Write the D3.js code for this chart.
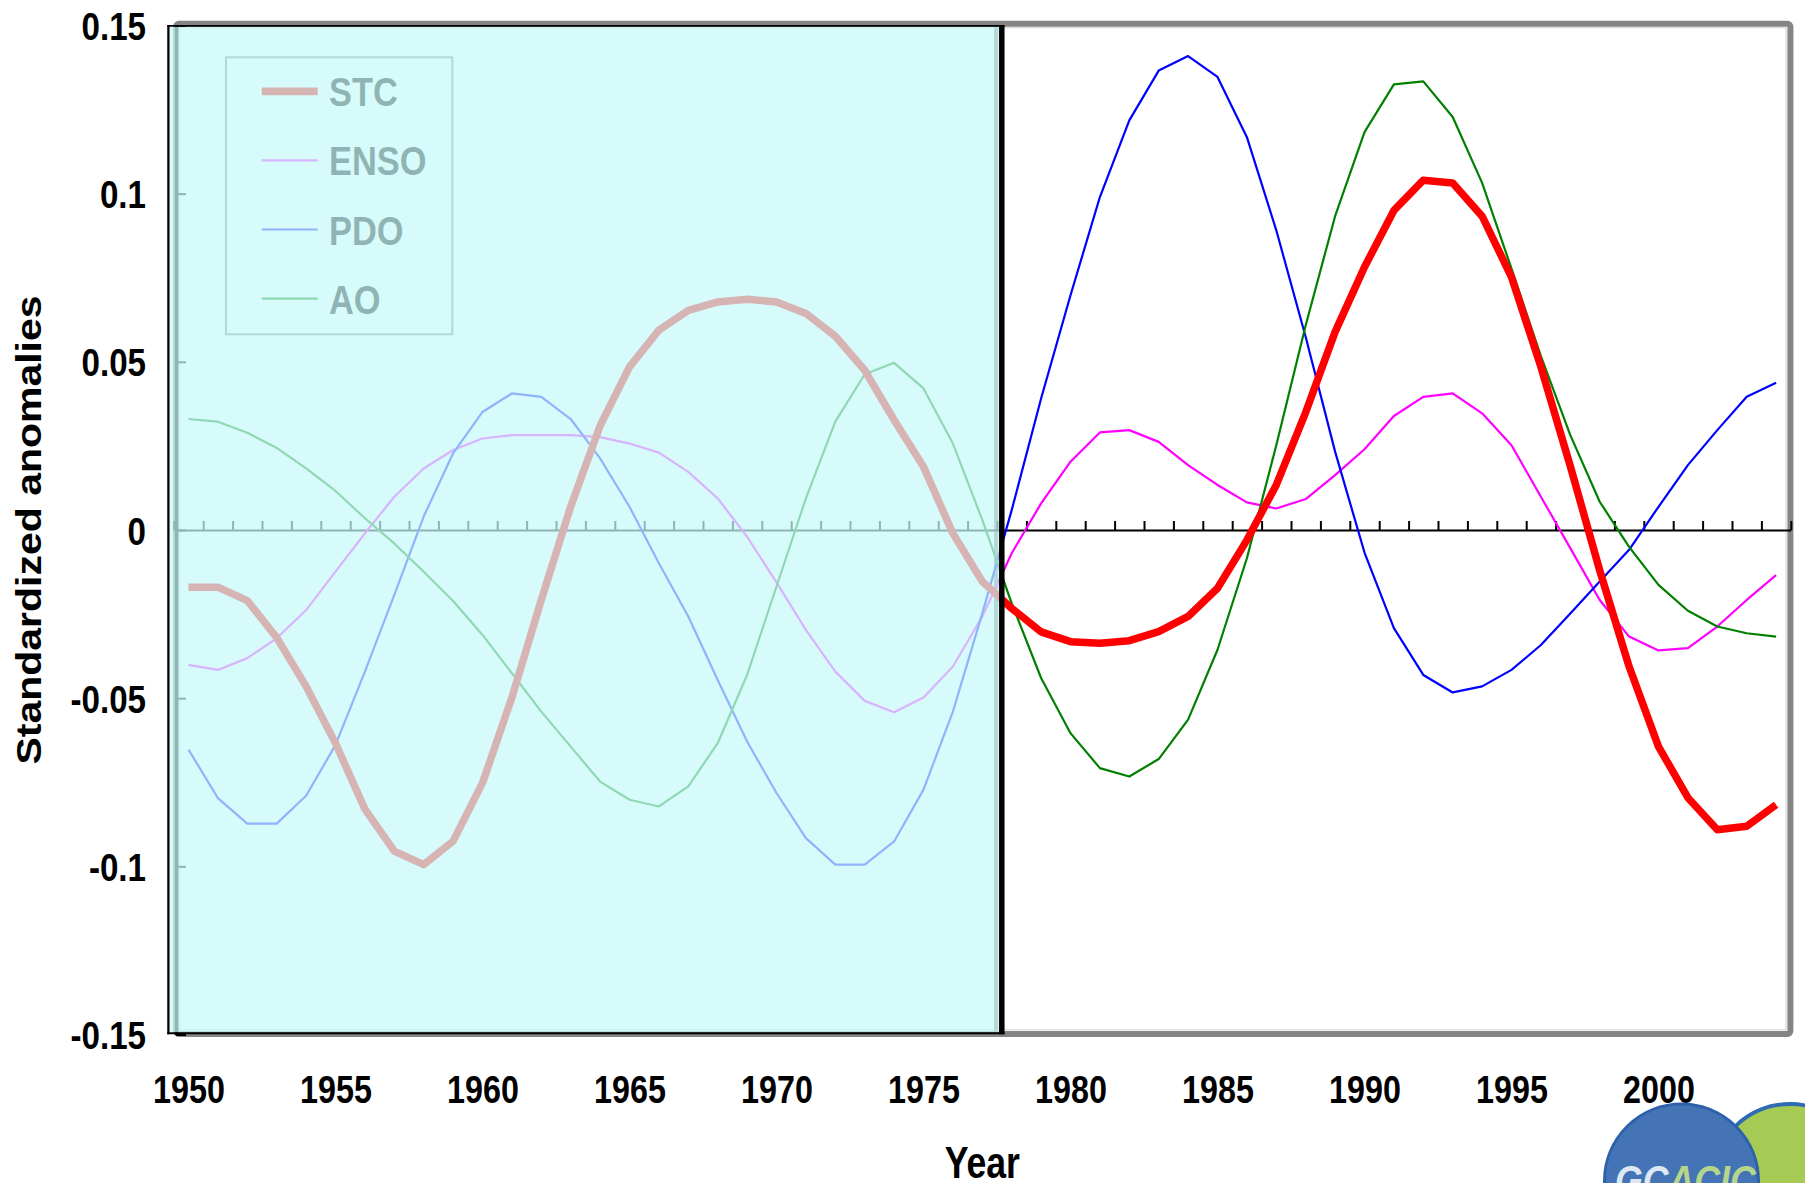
<!DOCTYPE html>
<html>
<head>
<meta charset="utf-8">
<script src="https://cdn.jsdelivr.net/npm/d3@7"></script>
<style>
body { margin: 0; background: #fff; }
text { font-family: "Liberation Sans", Arial, sans-serif; font-weight: bold; }
</style>
</head>
<body>
<script>
// categories (years) and series values
var years = [1950,1951,1952,1953,1954,1955,1956,1957,1958,1959,
             1960,1961,1962,1963,1964,1965,1966,1967,1968,1969,
             1970,1971,1972,1973,1974,1975,1976,1977,1978,1979,
             1980,1981,1982,1983,1984,1985,1986,1987,1988,1989,
             1990,1991,1992,1993,1994,1995,1996,1997,1998,1999,
             2000,2001,2002,2003,2004];

var stc = [-0.017,-0.017,-0.021,-0.032,-0.0465,-0.0634,-0.083,-0.0955,-0.0995,-0.0925,
           -0.0752,-0.0498,-0.0208,0.007,0.031,0.0485,0.0594,0.0653,0.0678,0.0686,
           0.0678,0.0644,0.0576,0.0475,0.0327,0.0188,-0.001,-0.0153,-0.0233,-0.0303,
           -0.0332,-0.0337,-0.0329,-0.0302,-0.0257,-0.0173,-0.003,0.0134,0.035,0.0589,
           0.0782,0.095,0.104,0.1032,0.0933,0.0752,0.0485,0.019,-0.012,-0.0406,
           -0.0644,-0.0796,-0.0891,-0.0881,-0.0817];

var enso = [-0.0401,-0.0416,-0.0381,-0.0322,-0.0238,-0.0124,-0.001,0.0099,0.0183,0.0238,
            0.0272,0.0282,0.0282,0.0282,0.0276,0.0257,0.023,0.0173,0.0094,-0.002,
            -0.0156,-0.0297,-0.0421,-0.0508,-0.0542,-0.0498,-0.0406,-0.0257,-0.0069,0.0079,
            0.0203,0.029,0.0297,0.0262,0.0193,0.0134,0.0082,0.0064,0.0092,0.0163,
            0.024,0.0339,0.0396,0.0406,0.0347,0.0252,0.0099,-0.0054,-0.0208,-0.0317,
            -0.0358,-0.0351,-0.0287,-0.0208,-0.0134];

var pdo = [-0.0653,-0.0797,-0.0873,-0.0873,-0.079,-0.0639,-0.0421,-0.0193,0.004,0.0228,
           0.0351,0.0406,0.0396,0.033,0.0213,0.0069,-0.0099,-0.0257,-0.0446,-0.0629,
           -0.0782,-0.0916,-0.0995,-0.0995,-0.0926,-0.0772,-0.054,-0.0248,0.0059,0.0391,
           0.0698,0.099,0.1218,0.1366,0.1409,0.1347,0.1168,0.0891,0.0574,0.0233,
           -0.0067,-0.0292,-0.0431,-0.0483,-0.0465,-0.0416,-0.0342,-0.0248,-0.0153,-0.0059,
           0.0069,0.0193,0.0297,0.0396,0.0438];

var ao = [0.033,0.0322,0.0289,0.0244,0.0183,0.0116,0.0035,-0.004,-0.0124,-0.0211,
          -0.0312,-0.0426,-0.054,-0.0644,-0.0748,-0.0802,-0.0822,-0.0762,-0.0634,-0.0431,
          -0.0168,0.0094,0.0322,0.0463,0.0497,0.0421,0.0257,0.003,-0.0218,-0.044,
          -0.0604,-0.0708,-0.0733,-0.0681,-0.0564,-0.0356,-0.0084,0.0252,0.0609,0.0933,
          0.1183,0.1325,0.1334,0.1228,0.1032,0.0777,0.0517,0.0282,0.0084,-0.005,
          -0.0163,-0.024,-0.0287,-0.0307,-0.0317];

var seriesNames = ["STC", "ENSO", "PDO", "AO"];
var yTicks = [-0.15, -0.1, -0.05, 0, 0.05, 0.1, 0.15];
var xLabelYears = [1950, 1955, 1960, 1965, 1970, 1975, 1980, 1985, 1990, 1995, 2000];

var W = 1805, H = 1183;
var plotL = 173.8, plotR = 1790.8, plotT = 25.5, plotB = 1034.5;
var squish = "scale(0.85,1)";   // the picture is narrowed horizontally

var svg = d3.select("body").append("svg")
    .attr("width", W)
    .attr("height", H);

var x = d3.scaleLinear().domain([1949.5, 2004.5]).range([plotL, plotR]);
var y = d3.scaleLinear().domain([-0.15, 0.15]).range([plotB, plotT]);

// plot frame
svg.append("rect")
    .attr("x", 176).attr("y", 23.7)
    .attr("width", 1614.4).attr("height", 1010.3)
    .attr("rx", 3)
    .attr("fill", "none")
    .attr("stroke", "#858585")
    .attr("stroke-width", 6);
svg.append("rect")
    .attr("x", 180).attr("y", 27.8)
    .attr("width", 1606).attr("height", 1002)
    .attr("fill", "none")
    .attr("stroke", "#d0d0d0")
    .attr("stroke-width", 1);

// gray strip along the right edge of the shaded box
svg.append("line")
    .attr("x1", 996).attr("x2", 996)
    .attr("y1", 27).attr("y2", 1032)
    .attr("stroke", "#858585")
    .attr("stroke-width", 4);

// zero line with year ticks
svg.append("g")
    .attr("transform", "translate(0," + y(0) + ")")
    .call(d3.axisTop(x)
        .tickValues(d3.range(1949.5, 2005, 1))
        .tickSize(9)
        .tickSizeOuter(0)
        .tickFormat(""))
    .call(function(g){
        g.select(".domain").attr("stroke", "#000").attr("stroke-width", 2.2);
        g.selectAll(".tick line").attr("stroke", "#000").attr("stroke-width", 2);
    });

// y axis line with inward ticks
svg.append("g")
    .attr("transform", "translate(176,0)")
    .call(d3.axisRight(y)
        .tickValues(yTicks)
        .tickSize(10)
        .tickSizeOuter(0)
        .tickFormat(""))
    .call(function(g){
        g.select(".domain").attr("stroke", "#000").attr("stroke-width", 3);
        g.selectAll(".tick line").attr("stroke", "#000").attr("stroke-width", 2);
    });

// series lines
var line = d3.line()
    .x(function(d, i){ return x(years[i]); })
    .y(function(d){ return y(d); })
    .curve(d3.curveLinear);

var seriesData = [enso, pdo, ao, stc];
var seriesColor = ["#ff00ff", "#0000ff", "#008000", "#ff0000"];
var seriesWidth = [2.2, 2.2, 2.2, 7.5];

svg.selectAll("path.series")
    .data(seriesData)
    .enter()
    .append("path")
    .attr("class", "series")
    .attr("d", line)
    .attr("fill", "none")
    .attr("stroke", function(d, i){ return seriesColor[i]; })
    .attr("stroke-width", function(d, i){ return seriesWidth[i]; })
    .attr("stroke-linejoin", "round");

// legend
var legendColor = {STC: "#ff0000", ENSO: "#ff00ff", PDO: "#0000ff", AO: "#008000"};
var legendWidth = {STC: 7.7, ENSO: 2.2, PDO: 2.2, AO: 2.2};

svg.append("rect")
    .attr("x", 226).attr("y", 57.3)
    .attr("width", 226.3).attr("height", 277)
    .attr("fill", "#fff")
    .attr("stroke", "#808080")
    .attr("stroke-width", 2);

var leg = svg.selectAll("g.leg")
    .data(seriesNames)
    .enter()
    .append("g")
    .attr("class", "leg")
    .attr("transform", function(d, i){ return "translate(0," + (91.3 + i * 69.1) + ")"; });

leg.append("line")
    .attr("x1", 261.7).attr("x2", 317.7)
    .attr("y1", 0).attr("y2", 0)
    .attr("stroke", function(d){ return legendColor[d]; })
    .attr("stroke-width", function(d){ return legendWidth[d]; });

leg.append("text")
    .attr("transform", "translate(329,15) " + squish)
    .attr("font-size", 40.5)
    .attr("fill", "#000")
    .text(function(d){ return d; });

// semi-transparent cyan box over the early period
svg.append("rect")
    .attr("x", 169.5).attr("y", 26.7)
    .attr("width", 829.5).attr("height", 1005.6)
    .attr("fill", "rgb(200,250,250)")
    .attr("fill-opacity", 0.72);

svg.append("line")
    .attr("x1", 168.4).attr("x2", 168.4).attr("y1", 25).attr("y2", 1034.3)
    .attr("stroke", "#000").attr("stroke-width", 2.3);
svg.append("line")
    .attr("x1", 167.3).attr("x2", 1004.5).attr("y1", 25.8).attr("y2", 25.8)
    .attr("stroke", "#000").attr("stroke-width", 1.8);
svg.append("line")
    .attr("x1", 167.3).attr("x2", 1004.5).attr("y1", 1033.3).attr("y2", 1033.3)
    .attr("stroke", "#000").attr("stroke-width", 2);
svg.append("line")
    .attr("x1", 1001.8).attr("x2", 1001.8).attr("y1", 25).attr("y2", 1034.3)
    .attr("stroke", "#000").attr("stroke-width", 5.5);

// y tick labels
svg.append("g")
    .attr("transform", "translate(146,0)")
    .call(d3.axisLeft(y)
        .tickValues(yTicks)
        .tickSize(0)
        .tickPadding(0)
        .tickFormat(function(d){ return d === 0 ? "0" : String(+d.toFixed(2)); }))
    .call(function(g){
        g.select(".domain").remove();
        g.selectAll("text")
            .attr("x", 0)
            .attr("dy", "0.36em")
            .attr("transform", squish)
            .attr("font-size", 39)
            .attr("font-family", "Liberation Sans, Arial, sans-serif")
            .attr("font-weight", "bold")
            .attr("fill", "#000");
    });

// x tick labels
svg.append("g")
    .attr("transform", "translate(0,1103)")
    .call(d3.axisBottom(x)
        .tickValues(xLabelYears)
        .tickSize(0)
        .tickPadding(0)
        .tickFormat(d3.format("d")))
    .call(function(g){
        g.select(".domain").remove();
        g.selectAll("text")
            .attr("y", 0)
            .attr("dy", null)
            .attr("transform", squish)
            .attr("font-size", 38)
            .attr("font-family", "Liberation Sans, Arial, sans-serif")
            .attr("font-weight", "bold")
            .attr("fill", "#000");
    });

// axis titles
svg.append("text")
    .attr("transform", "translate(" + ((plotL + plotR) / 2) + ",1178) scale(0.81,1)")
    .attr("text-anchor", "middle")
    .attr("font-size", 44)
    .text("Year");

svg.append("text")
    .attr("transform", "translate(41," + y(0) + ") " + squish + " rotate(-90)")
    .attr("text-anchor", "middle")
    .attr("font-size", 41)
    .text("Standardized anomalies");

// logo in the corner
var logo = svg.append("g");
logo.append("circle")
    .attr("cx", 1790).attr("cy", 1182).attr("r", 78)
    .attr("fill", "#a6cb55")
    .attr("stroke", "#2f6ab3")
    .attr("stroke-width", 4);
logo.append("circle")
    .attr("cx", 1681.5).attr("cy", 1181).attr("r", 77)
    .attr("fill", "#4474b6")
    .attr("stroke", "#2d62aa")
    .attr("stroke-width", 3);
var logoText = logo.append("text")
    .attr("transform", "translate(1615,1195) " + squish)
    .attr("font-size", 42)
    .attr("font-style", "italic");
logoText.append("tspan").attr("fill", "#dfe8f2").text("GC");
logoText.append("tspan").attr("fill", "#b5d68a").text("ACIC");
</script>
</body>
</html>
